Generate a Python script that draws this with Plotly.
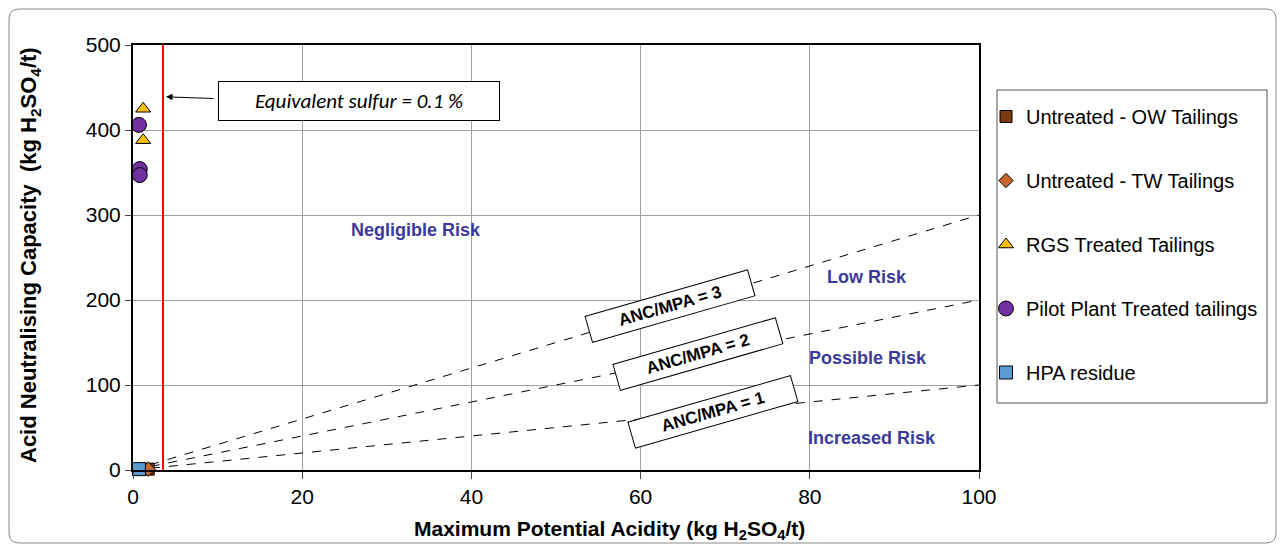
import plotly.graph_objects as go

# Data
ow_x = [1.8]; ow_y = [1]
tw_x = [1.8]; tw_y = [1]
rgs_x = [1.2, 1.2]; rgs_y = [425, 388]
pilot_x = [0.7, 0.8, 0.8]; pilot_y = [406, 354, 347]
hpa_x = [0.7]; hpa_y = [1]
ratio_x = [0, 100]
ratios = [3, 2, 1]
sulfur_x = 3.55
risk_labels = ["Negligible Risk", "Low Risk", "Possible Risk", "Increased Risk"]
risk_x = [33.4, 86.8, 86.9, 87.3]
risk_y = [282, 227, 132, 38]

# plot area in screen pixels (page has an 8px body margin)
PL, PR, PT, PB = 133, 979, 45, 470
PW, PH = PR - PL, PB - PT
def px(sx): return (sx - PL) / PW
def py(sy): return (PB - sy) / PH

fig = go.Figure()

for r in ratios:
    fig.add_trace(go.Scatter(x=ratio_x, y=[v * r for v in ratio_x], mode="lines",
                             line=dict(color="black", width=1, dash="dash"),
                             showlegend=False, hoverinfo="skip"))
fig.add_trace(go.Scatter(x=[sulfur_x, sulfur_x], y=[0, 500], mode="lines",
                         line=dict(color="red", width=2), showlegend=False, hoverinfo="skip"))

ml = dict(color="black", width=1)
fig.add_trace(go.Scatter(x=ow_x, y=ow_y, mode="markers", name="Untreated - OW Tailings", cliponaxis=False,
                         marker=dict(symbol="square", size=12, color="#7B3A10", line=ml), legendgroup="a"))
fig.add_trace(go.Scatter(x=tw_x, y=tw_y, mode="markers", name="Untreated - TW Tailings", cliponaxis=False,
                         marker=dict(symbol="diamond", size=11, color="#C8682C", line=ml), legendgroup="b"))
fig.add_trace(go.Scatter(x=rgs_x, y=rgs_y, mode="markers", name="RGS Treated Tailings", cliponaxis=False,
                         marker=dict(symbol="triangle-up", size=13, color="#FFC000", line=ml), legendgroup="c"))
fig.add_trace(go.Scatter(x=pilot_x, y=pilot_y, mode="markers", name="Pilot Plant Treated tailings", cliponaxis=False,
                         marker=dict(symbol="circle", size=15, color="#7030A0", line=ml), legendgroup="d"))
fig.add_trace(go.Scatter(x=hpa_x, y=hpa_y, mode="markers", name="HPA residue", cliponaxis=False,
                         marker=dict(symbol="square", size=13, color="#5B9BD5", line=ml), legendgroup="e"))

for t, x, y in zip(risk_labels, risk_x, risk_y):
    fig.add_annotation(x=x, y=y, text="<b>" + t + "</b>", showarrow=False,
                       font=dict(family="Arial, Liberation Sans", size=18, color="#3A3A9A"))

# ANC/MPA labels
box_pos = [(63.5, 193), (66.8, 136), (68.5, 68)]
for r, (bx, by) in zip(ratios, box_pos):
    fig.add_annotation(x=bx, y=by, text="<b>ANC/MPA = %d</b>" % r, showarrow=False, textangle=-16,
                       font=dict(family="Arial, Liberation Sans", size=17, color="black"),
                       bgcolor="white", bordercolor="black", borderwidth=1, borderpad=0,
                       width=168, height=26, align="center")

fig.add_annotation(x=3.9, y=439, ax=9.7, ay=437, axref="x", ayref="y",
                   text="", showarrow=True, arrowhead=2, arrowsize=1.3, arrowwidth=1, arrowcolor="black")
fig.add_annotation(x=26.7, y=434, text="<i>Equivalent sulfur = 0.1 %</i>", showarrow=False,
                   font=dict(family="Carlito, Lato, Liberation Sans", size=21, color="black"),
                   bgcolor="white", bordercolor="black", borderwidth=1, borderpad=0, width=280, height=38)

# axis titles
fig.add_annotation(xref="paper", yref="paper", x=px(30), y=py(255), textangle=-90, showarrow=False,
                   xanchor="center", yanchor="middle",
                   text="<b>Acid Neutralising Capacity  (kg H<sub>2</sub>SO<sub>4</sub>/t)</b>",
                   font=dict(family="Arial, Liberation Sans", size=22, color="black"))
fig.add_annotation(xref="paper", yref="paper", x=px(609), y=py(530), showarrow=False,
                   xanchor="center", yanchor="middle",
                   text="<b>Maximum Potential Acidity (kg H<sub>2</sub>SO<sub>4</sub>/t)</b>",
                   font=dict(family="Arial, Liberation Sans", size=21, color="black"))

# legend box
fig.add_shape(type="rect", xref="paper", yref="paper", x0=px(997), x1=px(1267),
              y0=py(403), y1=py(90), line=dict(color="#555555", width=1), fillcolor="white", layer="below")

# outer rounded border
bx0, bx1, by0, by1, rad = 9, 1276, 9, 543, 10
rx, ry = rad / PW, rad / PH
X0, X1, Y0, Y1 = px(bx0), px(bx1), py(by1), py(by0)
path = (f"M {X0+rx},{Y1} L {X1-rx},{Y1} Q {X1},{Y1} {X1},{Y1-ry} "
        f"L {X1},{Y0+ry} Q {X1},{Y0} {X1-rx},{Y0} L {X0+rx},{Y0} Q {X0},{Y0} {X0},{Y0+ry} "
        f"L {X0},{Y1-ry} Q {X0},{Y1} {X0+rx},{Y1} Z")
fig.add_shape(type="path", xref="paper", yref="paper", path=path,
              line=dict(color="#888888", width=1), layer="below")

fig.update_layout(
    width=1269, height=536,
    margin=dict(l=PL - 8, r=1269 - (PR - 8), t=PT - 8, b=536 - (PB - 8)),
    plot_bgcolor="white", paper_bgcolor="white",
    font=dict(family="Arial, Liberation Sans", color="black"),
    legend=dict(x=px(986), y=py(97), xanchor="left", yanchor="top",
                font=dict(size=20, family="Arial, Liberation Sans"), tracegroupgap=35,
                bgcolor="rgba(0,0,0,0)", itemwidth=30),
    xaxis=dict(range=[0, 100], dtick=20, showgrid=True, gridcolor="#A0A0A0", gridwidth=1,
               showline=True, linecolor="black", linewidth=2, mirror=True, zeroline=False,
               ticks="outside", ticklen=7, tickfont=dict(size=21)),
    yaxis=dict(range=[0, 500], dtick=100, showgrid=True, gridcolor="#A0A0A0", gridwidth=1,
               showline=True, linecolor="black", linewidth=2, mirror=True, zeroline=False,
               ticks="outside", ticklen=6, tickfont=dict(size=21)),
)

fig.write_html("out.html")
